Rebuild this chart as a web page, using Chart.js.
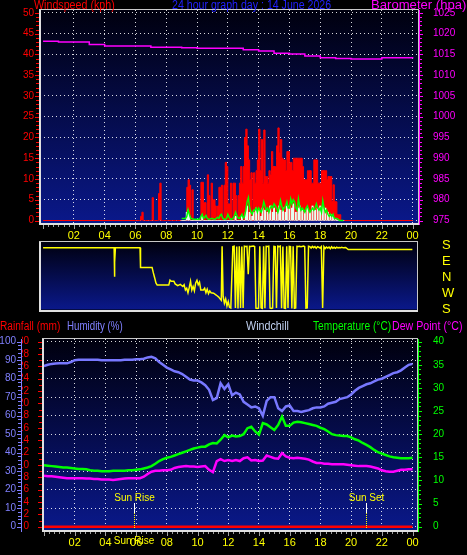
<!DOCTYPE html>
<html>
<head>
<meta charset="utf-8">
<script src="https://cdn.jsdelivr.net/npm/chart.js@4.4.1/dist/chart.umd.min.js"></script>
<style>
html, body { margin: 0; padding: 0; background: #000; }
body { width: 467px; height: 555px; position: relative; overflow: hidden; font-family: 'Liberation Sans', Arial, sans-serif; }
canvas { position: absolute; left: 0; }
.t { position: absolute; width: max-content; font-size: 12px; line-height: 12px; white-space: nowrap; transform-origin: 0 0; }
</style>
</head>
<body>
<canvas id="wind" width="467" height="240" style="top:0"></canvas>
<canvas id="dir" width="467" height="82" style="top:238px"></canvas>
<canvas id="temp" width="467" height="237" style="top:318px"></canvas>

<div class="t" data-w="81" style="left:34px;top:-1px;color:#ff0000">Windspeed (kph)</div>
<div class="t" data-w="159" style="left:172px;top:-1px;color:#2222ff">24 hour graph day : 14 June 2026</div>
<div class="t" data-w="95" style="left:371px;top:-1px;color:#ff00ff">Barometer (hpa)</div>

<div class="t" data-w="60" style="left:0;top:320px;color:#ff0000">Rainfall (mm)</div>
<div class="t" data-w="56" style="left:67px;top:320px;color:#8080ff">Humidity (%)</div>
<div class="t" data-w="43" style="left:246px;top:320px;color:#c0d0f0">Windchill</div>
<div class="t" data-w="78" style="left:313px;top:320px;color:#00ff00">Temperature (°C)</div>
<div class="t" data-w="70" style="left:392px;top:320px;color:#ff00ff">Dew Point (°C)</div>

<script>
// ---- data ----
const hourTicks = [2, 4, 6, 8, 10, 12, 14, 16, 18, 20, 22, 24];
const windTicks = [0, 5, 10, 15, 20, 25, 30, 35, 40, 45, 50];
const baroTicks = [975, 980, 985, 990, 995, 1000, 1005, 1010, 1015, 1020, 1025];
const rainTicks = [0, 2, 4, 6, 8, 10, 12, 14, 16, 18, 20, 22, 24, 26, 28, 30];
const humTicks = [0, 10, 20, 30, 40, 50, 60, 70, 80, 90, 100];
const tempTicks = [0, 5, 10, 15, 20, 25, 30, 35, 40];
const dirTicks = [0, 90, 180, 270, 360];
const dirLabels = ['S', 'E', 'N', 'W', 'S'];

// gust, kph, every 5 min from 06:00
const windGust = [
  0, 0, 0, 0, 1, 2, 0, 0, 0, 0, 0, 0,
  0, 5.5, 0, 0, 0, 0, 6.5, 9, 0, 0, 0, 0,
  0, 0, 0, 0, 0, 0, 0, 0, 0, 0, 0, 0,
  0, 0, 0, 0, 8, 9.8, 8.5, 0, 7.4, 0, 0, 0,
  0, 0, 0, 9.2, 9.2, 4.3, 4.3, 0, 11, 6, 0, 9,
  5, 5, 3.5, 0, 3.5, 8, 8, 8.5, 0, 8.5, 14, 13,
  4, 4, 9, 0, 9, 9, 6, 0, 6, 9, 13, 9,
  13, 20, 22, 18, 14.6, 9.8, 11.5, 0, 11.5, 9, 12, 14.6,
  22, 12, 19.5, 9, 21.8, 10.6, 10.6, 9, 12, 11, 16.6, 13,
  13, 13, 18, 22.3, 16.3, 19.5, 15, 14.6, 14.6, 12, 16.6, 16.6,
  14, 14, 12, 15, 15, 15, 15, 15, 15, 15, 13, 9.8,
  9.8, 9.8, 12, 12, 12, 9, 9, 14.6, 14.6, 14.6, 9, 9,
  9, 12, 12, 12, 12, 9.8, 10.6, 10.6, 10.6, 4.6, 8.6, 4.6,
  4.5, 1.4, 1.4, 1.4, 0, 0, 0
];
// average speed, kph, every 5 min from 09:00
const windAvg = [
  0.5, 0.5, 0.5, 0.5, 1, 2.6, 1.5, 0.5, 0.5, 0.3, 0.3, 0.3,
  0.3, 0.3, 0.3, 1, 1.5, 0.5, 0.8, 1.2, 0.5, 0.3, 0.3, 0.5,
  0.5, 0.3, 0.3, 0.5, 0.8, 0.5, 1.2, 1.5, 0.6, 0.3, 0.3, 0.5,
  1.5, 0.8, 0.3, 0.3, 0.5, 1, 2, 1.2, 0.6, 0.5, 1, 1.5,
  0.6, 1, 2.5, 4.5, 5.5, 3, 2, 1.5, 2.5, 2.5, 3, 2,
  3, 2.5, 2, 3, 4.5, 3.5, 2.5, 3, 2, 3, 3.5, 3,
  4, 3.5, 3, 2, 3, 4.8, 3.5, 2.5, 3, 3.5, 4.5, 3,
  3, 5.2, 4, 5, 4.5, 3, 2.5, 5.2, 3.5, 2.5, 3, 2.5,
  2, 3, 3.5, 2.5, 2, 2.5, 3, 2.5, 3, 4, 3, 2.5,
  3, 2, 4.8, 3, 2, 2.5, 1.5, 1, 1.5, 1, 1.5, 0.5,
  0.5, 0.5, 0.3, 0, 0, 0, 0
];
// current speed, kph, every 5 min from 09:00
const windNow = [
  0, 0, 0, 0, 2, 2.5, 1, 0, 0, 0, 0, 0,
  0, 0, 0, 0, 1, 0, 0, 0, 0, 0, 0, 0,
  0, 0, 0, 0, 0, 0, 0, 0, 0, 0, 0, 0,
  0, 0, 0, 0, 0, 0, 1, 0, 0, 0, 0, 1,
  0, 0, 2, 3.5, 0, 2, 0, 1, 2, 0, 3, 0,
  2.5, 0, 1, 3, 0, 2.5, 0, 2, 0, 3.5, 0, 2,
  3, 0, 2, 0, 3.5, 2.5, 0, 3, 0, 2, 3.5, 0,
  3.5, 0, 3, 4, 0, 2, 0, 3, 3.5, 0, 2.5, 0,
  2, 0, 3, 0, 2, 0, 3.5, 0, 2.5, 0, 3, 0,
  3.5, 0, 3.5, 0, 3, 0, 2, 0, 1.5, 0, 1, 0,
  0.5, 0, 0, 0, 0, 0, 0
];
// barometer, hPa, hourly from 00:00
const baro = [1018.2, 1018.0, 1018.0, 1017.4, 1017.0, 1017.0, 1017.0, 1016.7, 1016.7, 1016.6,
  1016.5, 1016.5, 1016.5, 1016.1, 1015.8, 1015.3, 1015.1, 1014.6, 1014.2, 1014.0,
  1013.9, 1013.9, 1014.2, 1014.2, 1014.0];

// wind direction [time, bearing in degrees]
const windDir = [
  ['00:00', 170], ['04:37', 170], ['04:38', 5], ['04:40', 88], ['04:42', 170],
  ['06:18', 170], ['06:20', 58], ['07:05', 58], ['07:10', 27], ['07:15', 0], ['07:20', 330],
  ['07:25', 318], ['08:10', 318], ['08:15', 346], ['08:20', 340], ['08:30', 340], ['08:35', 325],
  ['08:45', 315], ['08:55', 322], ['09:05', 310], ['09:10', 320], ['09:15', 290], ['09:20', 300],
  ['09:25', 275], ['09:30', 305], ['09:35', 340], ['09:40', 290], ['09:45', 310], ['09:50', 285],
  ['09:55', 330], ['10:00', 345], ['10:05', 320], ['10:10', 335], ['10:15', 290], ['10:25', 290],
  ['10:30', 300], ['10:35', 275], ['10:40', 295], ['10:45', 270], ['10:50', 285], ['10:55', 275],
  ['11:05', 272], ['11:15', 262], ['11:25', 250], ['11:30', 240], ['11:35', 232],
  ['11:38', 178], ['11:42', 255], ['11:47', 215], ['11:52', 240], ['11:57', 200], ['12:02', 225],
  ['12:07', 192], ['12:12', 188],
  ['12:20', 176], ['12:25', 178], ['12:30', 188], ['12:35', 177], ['12:40', 186], ['12:45', 178],
  ['12:50', 189], ['12:55', 176], ['13:00', 188], ['13:05', 178], ['13:10', 176], ['13:15', 177],
  ['13:20', 20], ['13:25', 177], ['13:30', 176], ['13:35', 178], ['13:40', 179], ['13:45', 176],
  ['13:50', 188], ['13:55', 186], ['14:00', 188], ['14:05', 178], ['14:10', 189], ['14:15', 185],
  ['14:20', 178], ['14:25', 187], ['14:30', 177], ['14:35', 176], ['14:40', 178], ['14:45', 189],
  ['14:50', 186], ['14:55', 189], ['15:00', 177], ['15:05', 176], ['15:10', 188], ['15:15', 178],
  ['15:20', 176], ['15:25', 179], ['15:30', 187], ['15:35', 176], ['15:40', 188], ['15:45', 185],
  ['15:50', 178], ['15:55', 188], ['16:00', 177], ['16:05', 176], ['16:10', 186], ['16:15', 178],
  ['16:20', 187], ['16:25', 189], ['16:30', 177], ['16:35', 176], ['16:40', 178], ['16:45', 175],
  ['16:50', 177], ['16:55', 179], ['17:00', 176], ['17:05', 188], ['17:10', 189], ['17:15', 178],
  ['17:20', 176], ['17:25', 168], ['17:30', 177], ['17:35', 170], ['17:40', 176], ['17:45', 166],
  ['17:50', 175], ['17:55', 172], ['18:00', 168], ['18:05', 176], ['18:10', 189], ['18:15', 175],
  ['18:20', 165], ['18:25', 174], ['18:30', 168], ['18:35', 173], ['18:40', 164], ['18:45', 175],
  ['18:50', 167], ['18:55', 172], ['19:00', 166], ['19:05', 173], ['19:10', 169], ['19:15', 171],
  ['19:20', 170], ['19:25', 172], ['19:30', 169], ['19:40', 171], ['19:50', 159], ['24:00', 159]
];

// every 15 min from 00:00
const humidity = [
  86.9, 87.5, 88.0, 88.2, 88.3, 88.3, 88.3, 89.0, 90.0, 90.3, 90.3, 90.3,
  90.3, 90.3, 90.3, 90.0, 90.0, 90.0, 90.0, 90.0, 90.0, 90.2, 90.3, 90.3,
  90.5, 90.5, 90.8, 91.5, 91.8, 91.0, 89.0, 87.5, 86.0, 85.0, 84.0, 83.5,
  82.5, 81.0, 79.5, 79.0, 79.0, 78.0, 76.5, 74.0, 68.5, 69.5, 77.5, 74.5,
  77.0, 71.0, 72.5, 71.5, 67.5, 66.0, 64.5, 65.0, 64.0, 60.0, 68.0, 70.0,
  70.0, 64.0, 62.5, 65.0, 65.5, 62.5, 62.5, 62.0, 62.5, 63.0, 64.0, 64.5,
  64.5, 65.0, 66.5, 67.0, 67.5, 69.0, 69.5, 70.0, 71.5, 73.5, 75.0, 76.0,
  77.0, 77.5, 78.5, 79.5, 80.0, 81.0, 82.0, 83.0, 83.5, 84.5, 86.0, 87.5,
  88.0
];
const temperature = [
  13.3, 13.2, 13.1, 13.0, 12.9, 12.8, 12.8, 12.7, 12.6, 12.5, 12.5, 12.4,
  12.2, 12.1, 12.1, 12.0, 12.0, 12.0, 12.1, 12.1, 12.1, 12.1, 12.2, 12.2,
  12.3, 12.4, 12.6, 12.8, 13.1, 13.6, 14.2, 14.6, 14.9, 15.1, 15.4, 15.7,
  16.0, 16.3, 16.6, 16.9, 17.1, 17.3, 17.3, 17.8, 18.1, 18.0, 18.8, 19.8,
  19.3, 19.7, 19.5, 19.6, 20.0, 21.3, 21.6, 20.6, 19.9, 22.4, 22.1, 21.5,
  20.9, 22.0, 23.8, 21.8, 21.8, 22.5, 22.7, 22.6, 22.4, 22.2, 22.0, 21.8,
  21.4, 21.1, 20.6, 20.0, 19.8, 19.7, 19.6, 19.6, 19.3, 18.9, 18.6, 18.1,
  17.7, 17.2, 16.6, 16.1, 15.8, 15.5, 15.2, 15.0, 14.9, 14.8, 14.8, 14.8,
  14.9
];
const dewPoint = [
  11.0, 10.9, 10.9, 10.8, 10.7, 10.6, 10.5, 10.5, 10.5, 10.5, 10.5, 10.4,
  10.4, 10.3, 10.3, 10.2, 10.2, 10.2, 10.1, 10.2, 10.3, 10.4, 10.5, 10.5,
  10.5, 10.5, 10.8, 11.4, 11.9, 12.1, 12.1, 12.2, 12.2, 12.3, 12.7, 12.9,
  13.0, 13.1, 13.0, 13.0, 12.9, 13.0, 13.1, 12.3, 11.8, 14.2, 14.6, 14.2,
  14.4, 14.2, 14.4, 14.2, 14.8, 15.0, 14.3, 14.4, 14.2, 14.3, 15.4, 15.1,
  14.8, 14.7, 15.9, 15.2, 14.9, 14.8, 14.9, 14.8, 14.7, 14.5, 14.1, 13.8,
  13.8, 13.6, 13.6, 13.5, 13.5, 13.5, 13.5, 13.4, 13.3, 13.2, 13.1, 13.1,
  13.1, 13.0, 12.8, 12.6, 12.2, 12.0, 11.9, 11.9, 12.1, 12.3, 12.3, 12.4,
  12.4
];
// hourly from 00:00
const rainfall = [0, 0, 0, 0, 0, 0, 0, 0, 0, 0, 0, 0, 0, 0, 0, 0, 0, 0, 0, 0, 0, 0, 0, 0, 0];
const sunEvents = [['05:52', 'Sun Rise'], ['20:58', 'Sun Set']];

// ---- helpers ----
const FONT = "'Liberation Sans', Arial, sans-serif";
Chart.defaults.font.family = FONT;
const DOT = 'rgba(255,255,255,0.85)';

// squeeze the html captions to the narrow width of the original font
document.querySelectorAll('.t').forEach(el => {
  el.style.transform = 'scaleX(' + (+el.dataset.w / el.offsetWidth) + ')';
});

function toHours(t) {
  const [h, m] = t.split(':').map(Number);
  return h + m / 60;
}
function series(start, stepMin, values) {
  const h0 = toHours(start);
  return values.map((v, i) => ({ x: h0 + i * stepMin / 60, y: v }));
}
const hh = v => String(v % 24).padStart(2, '0');
const setTicks = list => s => { s.ticks = list.map(v => ({ value: v })); };
const noPad = w => s => {
  if (s.isHorizontal()) { s.height = w; s.paddingLeft = 0; s.paddingRight = 0; }
  else { s.width = w; s.paddingTop = 0; s.paddingBottom = 0; }
};

const plotBg = {
  id: 'plotBg',
  beforeDraw(chart) {
    const { ctx, chartArea: a } = chart;
    const g = ctx.createLinearGradient(0, a.top, 0, a.bottom);
    g.addColorStop(0, '#00000e');
    g.addColorStop(1, '#0a188a');
    ctx.save();
    ctx.fillStyle = g;
    ctx.fillRect(a.left, a.top, a.right - a.left, a.bottom - a.top);
    ctx.restore();
  },
  afterDatasetsDraw(chart) {
    const { ctx, chartArea: a } = chart;
    const l = Math.round(a.left), t = Math.round(a.top), r = Math.round(a.right), b = Math.round(a.bottom);
    ctx.save();
    ctx.strokeStyle = '#c8c8c8';
    ctx.lineWidth = 1;
    ctx.strokeRect(l - 0.5, t - 0.5, r - l + 1, b - t + 1);
    ctx.fillStyle = '#e0e0e0';
    ctx.fillRect(l - 1, t, 2, b - t + 2);
    ctx.fillRect(l - 1, b, r - l + 2, 2);
    ctx.restore();
  }
};

const axisMarks = {
  id: 'axisMarks',
  afterDraw(chart, args, opts) {
    const ctx = chart.ctx;
    const a = chart.chartArea;
    (opts.items || []).forEach(it => {
      const s = chart.scales[it.scale];
      const n = Math.round((it.to - it.from) / it.step);
      ctx.save();
      ctx.strokeStyle = it.color;
      ctx.lineWidth = 1;
      ctx.beginPath();
      if (it.line) {
        const x = s.position === 'left' ? s.right - 0.5 : s.left + 1.5;
        ctx.moveTo(x, a.top);
        ctx.lineTo(x, a.bottom + 2);
      }
      for (let i = 0; i <= n; i++) {
        const v = it.from + i * it.step;
        const major = Math.abs(v / it.major - Math.round(v / it.major)) < 1e-6;
        const len = major ? it.majorLen : it.len;
        const p = Math.round(s.getPixelForValue(v)) + 0.5;
        if (s.isHorizontal()) {
          ctx.moveTo(p, s.top + 2);
          ctx.lineTo(p, s.top + 2 + len);
        } else if (s.position === 'left') {
          ctx.moveTo(s.right - 1, p);
          ctx.lineTo(s.right - 1 - len, p);
        } else {
          ctx.moveTo(s.left + 1, p);
          ctx.lineTo(s.left + 1 + len, p);
        }
      }
      ctx.stroke();
      ctx.restore();
    });
  }
};

const sunMarks = {
  id: 'sunMarks',
  afterDatasetsDraw(chart) {
    const { ctx, chartArea: a, scales: { x } } = chart;
    ctx.save();
    sunEvents.forEach(([t, label]) => {
      const px = Math.round(x.getPixelForValue(toHours(t))) + 0.5;
      const b = a.bottom;
      ctx.strokeStyle = '#ffffff';
      ctx.beginPath(); ctx.moveTo(px, b - 27); ctx.lineTo(px, b - 17); ctx.stroke();
      ctx.strokeStyle = '#ffff00';
      ctx.setLineDash([1, 1]);
      ctx.beginPath(); ctx.moveTo(px, b - 17); ctx.lineTo(px, b - 1); ctx.stroke();
      ctx.setLineDash([]);
      ctx.fillStyle = '#ffff00';
      ctx.font = '10px ' + FONT;
      ctx.textAlign = 'center';
      ctx.textBaseline = 'middle';
      ctx.fillText(label, px, b - 32);
    });
    ctx.restore();
  },
  afterDraw(chart) {
    const { ctx, chartArea: a, scales: { x } } = chart;
    const [t, label] = sunEvents[0];
    ctx.save();
    ctx.fillStyle = '#ffff00';
    ctx.font = '10px ' + FONT;
    ctx.textAlign = 'center';
    ctx.textBaseline = 'middle';
    ctx.fillText(label, x.getPixelForValue(toHours(t)), a.bottom + 11);
    ctx.restore();
  }
};

const xAxis = (min, max, h) => ({
  type: 'linear', min, max, offset: false,
  afterBuildTicks: setTicks(hourTicks),
  afterFit: noPad(h),
  grid: { color: DOT, drawTicks: false, offset: false },
  border: { display: false, dash: [1, 3] },
  ticks: { color: '#ffff00', font: { size: 11 }, padding: 6, maxRotation: 0, autoSkip: false, callback: v => hh(v) }
});
const yTicks = (color, padding, size) => ({ color, padding, font: { size: size || 10 }, autoSkip: false, callback: v => String(v) });

// ---- top: wind and barometer ----
new Chart(document.getElementById('wind'), {
  type: 'line',
  data: {
    datasets: [
      { label: 'Average speed', data: series('09:00', 5, windAvg), yAxisID: 'y', borderColor: '#00ff00', borderWidth: 1.5, pointRadius: 0, order: 0 },
      { type: 'bar', label: 'Wind speed', data: series('09:00', 5, windNow), yAxisID: 'y', backgroundColor: '#e6fff0', barThickness: 1.3, order: 1 },
      { label: 'Gust', data: [{ x: 0, y: 0 }, ...series('06:00', 5, windGust), { x: 24, y: 0 }], yAxisID: 'y', stepped: true, fill: 'origin', borderColor: '#ff0000', backgroundColor: '#ff0000', borderWidth: 1, pointRadius: 0, order: 2 },
      { label: 'Barometer', data: series('00:00', 60, baro), yAxisID: 'yb', stepped: true, borderColor: '#ff00ff', borderWidth: 1.5, pointRadius: 0, order: 0 }
    ]
  },
  options: {
    responsive: false, animation: false, devicePixelRatio: 1,
    layout: { padding: { top: 10, left: 0, right: 0, bottom: 0 } },
    plugins: {
      legend: { display: false }, tooltip: { enabled: false },
      axisMarks: { items: [
        { scale: 'y', from: 0, to: 50, step: 1, major: 5, len: 3, majorLen: 4, color: '#ff0000' },
        { scale: 'yb', from: 975, to: 1025, step: 1, major: 5, len: 3, majorLen: 4, color: '#ff00ff', line: true },
        { scale: 'x', from: 0, to: 24, step: 1 / 3, major: 2, len: 2, majorLen: 4, color: '#a0a0a0' }
      ] }
    },
    scales: {
      x: xAxis(-0.2, 24.35, 17),
      y: {
        position: 'left', min: -0.6, max: 50.7,
        afterBuildTicks: setTicks(windTicks), afterFit: noPad(40),
        grid: { color: DOT, drawTicks: false }, border: { display: false, dash: [1, 3] },
        ticks: yTicks('#ff0000', 6)
      },
      yb: {
        position: 'right', min: 974.4, max: 1025.7,
        afterBuildTicks: setTicks(baroTicks), afterFit: noPad(49),
        grid: { display: false }, border: { display: false },
        ticks: yTicks('#ff00ff', 7)
      }
    }
  },
  plugins: [plotBg, axisMarks]
});

// ---- middle: wind direction ----
new Chart(document.getElementById('dir'), {
  type: 'line',
  data: {
    datasets: [{
      label: 'Direction',
      data: windDir.map(([t, deg]) => ({ x: toHours(t), y: (540 - deg) % 360 })),
      borderColor: '#ffff00', borderWidth: 1.5, pointRadius: 0
    }]
  },
  options: {
    responsive: false, animation: false, devicePixelRatio: 1,
    layout: { padding: { top: 4, left: 40, right: 0, bottom: 10.5 } },
    plugins: { legend: { display: false }, tooltip: { enabled: false } },
    scales: {
      x: { type: 'linear', min: -0.2, max: 24.3, display: false },
      y: {
        position: 'right', min: -22, max: 360, reverse: true,
        afterBuildTicks: setTicks(dirTicks), afterFit: noPad(50),
        grid: { display: false }, border: { display: false },
        ticks: { color: '#ffff00', font: { size: 13 }, padding: 17, autoSkip: false, callback: (v, i) => dirLabels[i] }
      }
    }
  },
  plugins: [plotBg]
});

// ---- bottom: rain, humidity, temperature ----
new Chart(document.getElementById('temp'), {
  type: 'line',
  data: {
    datasets: [
      { label: 'Rainfall', data: series('00:00', 60, rainfall), yAxisID: 'yr', borderColor: '#ff0000', borderWidth: 2.5, pointRadius: 0, order: 0 },
      { label: 'Dew Point', data: series('00:00', 15, dewPoint), yAxisID: 'yt', borderColor: '#ff00ff', borderWidth: 2.5, pointRadius: 0, order: 1 },
      { label: 'Temperature', data: series('00:00', 15, temperature), yAxisID: 'yt', borderColor: '#00ff00', borderWidth: 2.5, pointRadius: 0, order: 2 },
      { label: 'Humidity', data: series('00:00', 15, humidity), yAxisID: 'yh', borderColor: '#7878ff', borderWidth: 2.5, pointRadius: 0, order: 3 }
    ]
  },
  options: {
    responsive: false, animation: false, devicePixelRatio: 1,
    layout: { padding: { top: 21, left: 0, right: 0, bottom: 0 } },
    plugins: {
      legend: { display: false }, tooltip: { enabled: false },
      axisMarks: { items: [
        { scale: 'yr', from: 0, to: 30, step: 1, major: 2, len: 3, majorLen: 4, color: '#ff0000' },
        { scale: 'yh', from: 0, to: 100, step: 2, major: 10, len: 3, majorLen: 4, color: '#8080ff', line: true },
        { scale: 'yt', from: 0, to: 40, step: 1, major: 5, len: 3, majorLen: 4, color: '#00ff00', line: true },
        { scale: 'x', from: 0, to: 24, step: 1 / 3, major: 2, len: 2, majorLen: 4, color: '#a0a0a0' }
      ] }
    },
    scales: {
      x: xAxis(-0.065, 24.29, 25),
      yh: {
        position: 'left', weight: 1, min: -1.78, max: 101.46,
        afterBuildTicks: setTicks(humTicks), afterFit: noPad(22),
        grid: { color: DOT, drawTicks: false }, border: { display: false, dash: [1, 3] },
        ticks: yTicks('#8080ff', 6)
      },
      yr: {
        position: 'left', weight: 0, min: -0.535, max: 30.44,
        afterBuildTicks: setTicks(rainTicks), afterFit: noPad(21),
        grid: { display: false }, border: { display: false },
        ticks: yTicks('#ff0000', 6)
      },
      yt: {
        position: 'right', min: -0.71, max: 40.58,
        afterBuildTicks: setTicks(tempTicks), afterFit: noPad(50),
        grid: { display: false }, border: { display: false },
        ticks: yTicks('#00ff00', 8)
      }
    }
  },
  plugins: [plotBg, axisMarks, sunMarks]
});
</script>
</body>
</html>
